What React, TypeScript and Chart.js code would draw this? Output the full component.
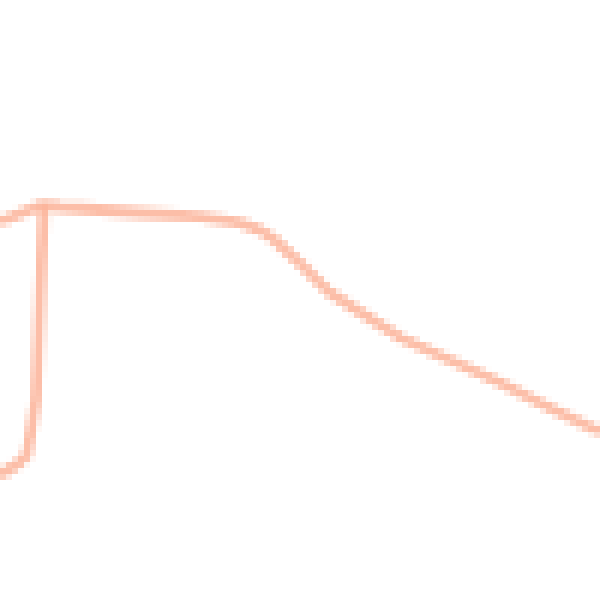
import { useEffect, useRef } from "react";
import { Chart, registerables } from "chart.js";

Chart.register(...registerables);

// main curve
const mainX = [0, 7, 10, 23.3, 33.3, 40, 43.3, 45.8, 50, 55, 60, 66.7, 75, 83.3, 91.7, 100];
const mainY = [63, 65.8, 65.5, 64.5, 63.8, 62.8, 61.7, 60, 56.2, 51.2, 48, 43.8, 40, 36.2, 32, 28];

// steep branch on the left
const branchX = [7.3, 6, 4.5, 3, 0];
const branchY = [65.5, 33.3, 24.2, 22.8, 20.8];

const lineColor = "rgba(251, 165, 135, 0.72)";

function toPoints(xs: number[], ys: number[]) {
  return xs.map((x, i) => ({ x, y: ys[i] }));
}

function LineChart() {
  const ref = useRef<HTMLCanvasElement | null>(null);
  useEffect(() => {
    if (!ref.current) return;
    const ctx = ref.current.getContext("2d");
    if (!ctx) return;

    const chart = new Chart(ctx, {
      type: "scatter",
      data: {
        datasets: [
          {
            data: toPoints(mainX, mainY),
            showLine: true,
            borderColor: lineColor,
            borderWidth: 1.8,
            pointRadius: 0,
          },
          {
            data: toPoints(branchX, branchY),
            showLine: true,
            borderColor: lineColor,
            borderWidth: 1.8,
            pointRadius: 0,
          },
        ],
      },
      options: {
        animation: false,
        responsive: false,
        devicePixelRatio: 1,
        layout: { padding: 0 },
        plugins: { legend: { display: false }, tooltip: { enabled: false } },
        scales: {
          x: { type: "linear", display: false, min: 0, max: 100 },
          y: { type: "linear", display: false, min: 0, max: 100 },
        },
      },
    });
    return () => chart.destroy();
  }, []);
  return (
    <canvas
      ref={ref}
      width={100}
      height={100}
      style={{ imageRendering: "pixelated" }}
    />
  );
}

export default function App() {
  return (
    <div
      style={{
        position: "fixed",
        top: 0,
        left: 0,
        width: 100,
        height: 100,
        transform: "scale(6)",
        transformOrigin: "0 0",
        background: "#fff",
      }}
    >
      <LineChart />
    </div>
  );
}
